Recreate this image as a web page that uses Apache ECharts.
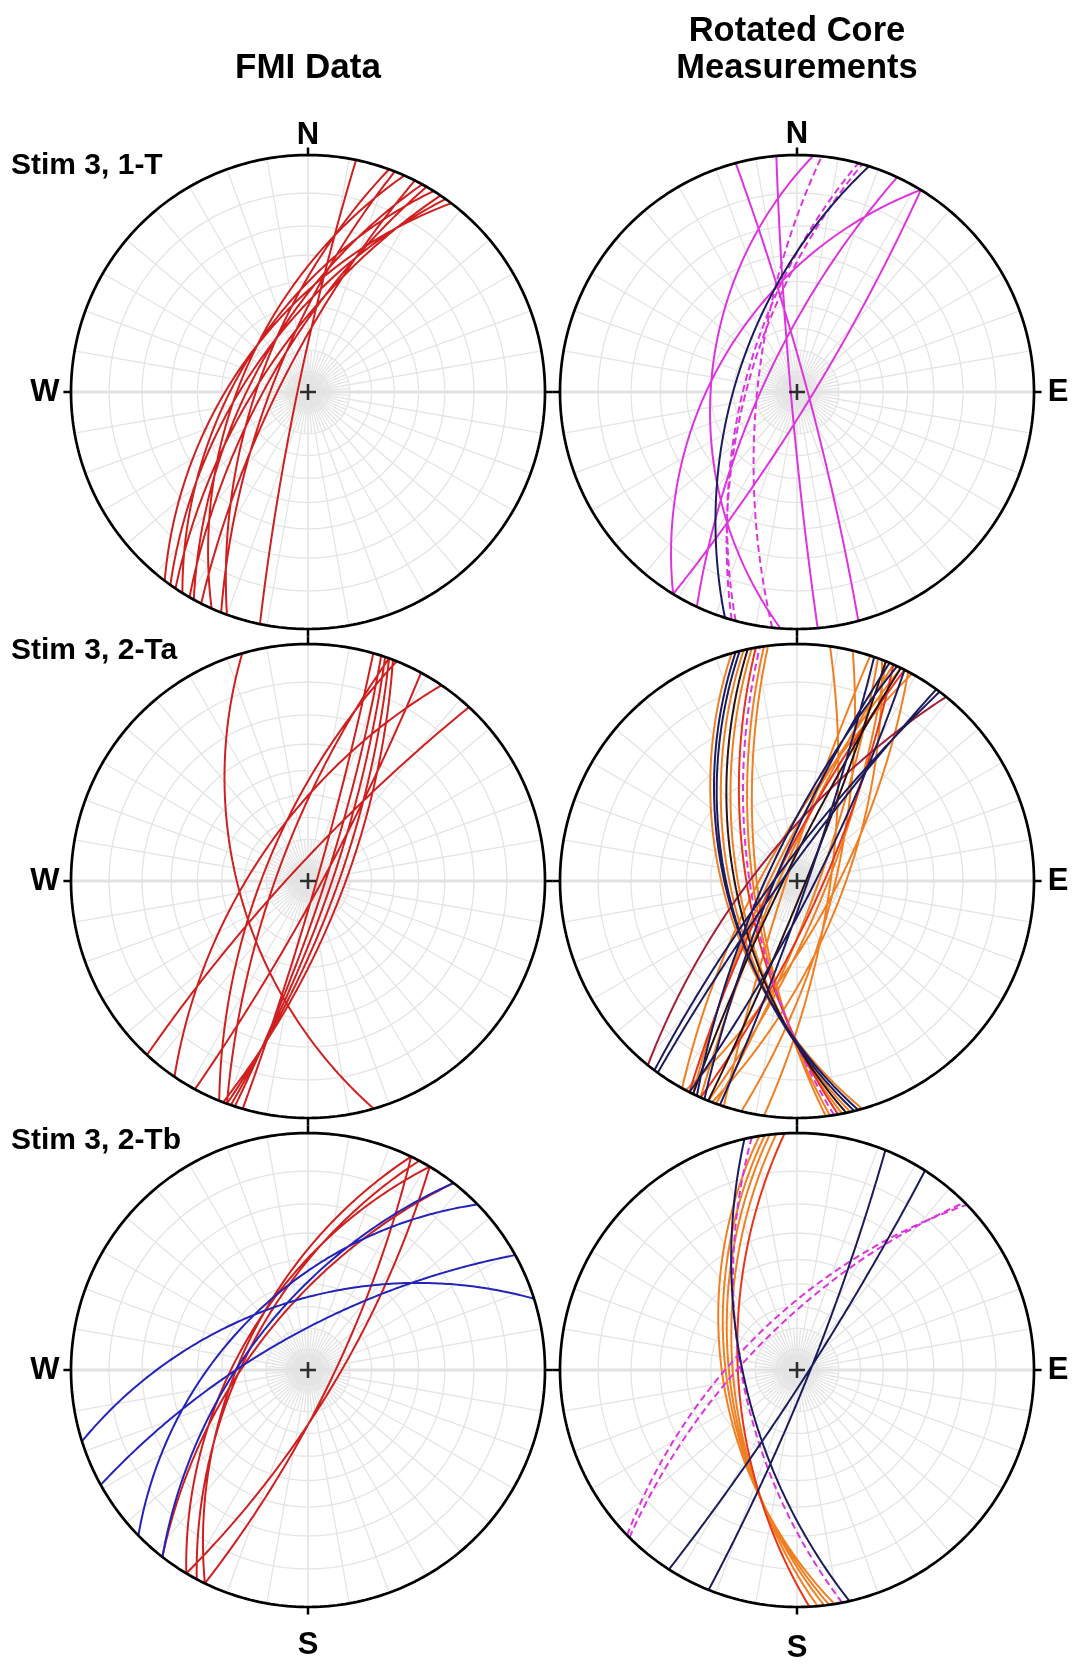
<!DOCTYPE html>
<html><head><meta charset="utf-8">
<script src="https://cdn.jsdelivr.net/npm/echarts/dist/echarts.min.js"></script>
<style>html,body{margin:0;padding:0;background:#fff}#c{width:1077px;height:1664px}</style>
</head><body><div id="c"></div>
<script>
// Planes as [dip direction (deg), dip (deg)], lower-hemisphere equal-angle projection
const fmi1T_red = [[281.7,85],[290,66.5],[291.5,73],[294,58.9],[296.8,76.7],[298.8,64],[300,71.2],[302,57.9],[304,68],[305.5,62.7],[307.2,57.6]];
const core1T_magenta = [[301.5,52.5],[121.5,83],[295,74],[274,50],[265,87],[75,85]];
const core1T_magentaDashed = [[285,65],[286,66.5],[276,71]];
const core1T_navy = [[287.7,61]];
const fmi2Ta_red = [[253.9,57.6],[312.8,82],[304.3,65],[118.5,84],[106,86],[108,82],[109,79],[110,76],[111,73],[290,75],[292,69]];
const core2Ta_orange = [[257,58.8],[259,62.4],[262,69],[263,70.8],[254,55.6],[110,80],[112,76],[294,82],[296,78],[118,72],[288,85],[299,74],[111,68],[98,74],[103.6,72]];
const core2Ta_navy = [[255,56.8],[256,57.4],[109,85],[293,80],[117,82],[295,76],[306,84],[307,81]];
const core2Ta_red = [[260,66.2],[114,78],[297,80]];
const core2Ta_darkred = [[309,72]];
const core2Ta_black = [[258,61],[112,86],[296,84]];
const core2Ta_magentaDashed = [[261,67.6]];
const fmi2Tb_red = [[295.8,59],[115.8,78],[300.9,58],[120.9,76],[298,61],[307.9,64]];
const fmi2Tb_blue = [[342.5,57],[331,72],[315.7,54],[307.9,62]];
const core2Tb_orange = [[260.9,55.1],[262.2,56.7],[263.4,58.1],[265,59.7]];
const core2Tb_red = [[267,62]];
const core2Tb_navy = [[257.2,64.6],[111.9,84],[122.7,85]];
const core2Tb_magentaDashed = [[259,63.8],[315.8,65],[315,69]];

const netPlunges = [10,20,30,40,50,60,70,80];
const columnTitles = [["FMI Data"],["Rotated Core","Measurements"]];
const rowLabels = ["Stim 3, 1-T","Stim 3, 2-Ta","Stim 3, 2-Tb"];

const C = {red:'#cf1f1f', blue:'#2424b8', mag:'#dd35dd', navy:'#1b1b5e', orange:'#f07f22', cred:'#ea3418', dred:'#a3203a', black:'#2a1010'};

const panels = [
  {row:0,col:0,groups:[{d:fmi1T_red,c:C.red}]},
  {row:0,col:1,groups:[{d:core1T_magenta,c:C.mag},{d:core1T_magentaDashed,c:C.mag,dash:true},{d:core1T_navy,c:C.navy}]},
  {row:1,col:0,groups:[{d:fmi2Ta_red,c:C.red}]},
  {row:1,col:1,groups:[{d:core2Ta_orange,c:C.orange},{d:core2Ta_red,c:C.cred},{d:core2Ta_darkred,c:C.dred},{d:core2Ta_magentaDashed,c:C.mag,dash:true},{d:core2Ta_black,c:C.black},{d:core2Ta_navy,c:C.navy}]},
  {row:2,col:0,groups:[{d:fmi2Tb_red,c:C.red},{d:fmi2Tb_blue,c:C.blue}]},
  {row:2,col:1,groups:[{d:core2Tb_orange,c:C.orange},{d:core2Tb_red,c:C.cred},{d:core2Tb_magentaDashed,c:C.mag,dash:true},{d:core2Tb_navy,c:C.navy}]}
];

const CX=[308,797], CY=[392,881,1370], R=237, EXT=1.1;
const D2R=Math.PI/180;

function greatCircle(dd,dip){
  const s=(dd-90)*D2R, d=dd*D2R, p=dip*D2R;
  const sv=[Math.sin(s),Math.cos(s),0];
  const dv=[Math.sin(d)*Math.cos(p),Math.cos(d)*Math.cos(p),-Math.sin(p)];
  const pts=[];
  for(let i=0;i<=180;i+=1){
    const t=i*D2R, a=Math.cos(t), b=Math.sin(t);
    const vx=a*sv[0]+b*dv[0], vy=a*sv[1]+b*dv[1], vz=a*sv[2]+b*dv[2];
    const den=1-vz;
    pts.push([vx/den,vy/den]);
  }
  return pts;
}
function groupData(arr){
  const out=[];
  arr.forEach(pl=>{greatCircle(pl[0],pl[1]).forEach(q=>out.push(q)); out.push(null);});
  return out;
}
function netData(){
  const out=[];
  netPlunges.forEach(pl=>{
    const r=Math.tan((90-pl)/2*D2R);
    for(let a=0;a<=360;a+=2) out.push([r*Math.sin(a*D2R),r*Math.cos(a*D2R)]);
    out.push(null);
  });
  const r70=Math.tan(10*D2R), r80=Math.tan(5*D2R);
  for(let a=0;a<360;a+=10){ if(a===90||a===270) continue; out.push([0,0]); out.push([Math.sin(a*D2R),Math.cos(a*D2R)]); out.push(null);}
  for(let a=5;a<360;a+=10){ out.push([0,0]); out.push([r70*Math.sin(a*D2R),r70*Math.cos(a*D2R)]); out.push(null);}
  for(let a=0;a<360;a+=2.5){ out.push([0,0]); out.push([0.5*r80*Math.sin(a*D2R),0.5*r80*Math.cos(a*D2R)]); out.push(null);}
  return out;
}
function primitive(){ const o=[]; for(let a=0;a<=360;a+=1) o.push([Math.sin(a*D2R),Math.cos(a*D2R)]); return o; }
function ticks(){ const o=[]; [0,90,180,270].forEach(a=>{o.push([Math.sin(a*D2R),Math.cos(a*D2R)]); o.push([1.032*Math.sin(a*D2R),1.032*Math.cos(a*D2R)]); o.push(null);}); return o; }

const grid=[], xAxis=[], yAxis=[], series=[];
const net=netData(), prim=primitive(), tk=ticks();
panels.forEach((P,i)=>{
  const cx=CX[P.col], cy=CY[P.row];
  grid.push({left:cx-R*EXT, top:cy-R*EXT, width:2*R*EXT, height:2*R*EXT});
  xAxis.push({type:'value',gridIndex:i,min:-EXT,max:EXT,show:false});
  yAxis.push({type:'value',gridIndex:i,min:-EXT,max:EXT,show:false});
  const base={type:'line',xAxisIndex:i,yAxisIndex:i,symbol:'none',silent:true,animation:false,clip:false,connectNulls:false};
  series.push(Object.assign({},base,{data:net,lineStyle:{color:'#e4e4e4',width:1.3},z:1}));
  series.push(Object.assign({},base,{data:[[-1,0],[1,0]],lineStyle:{color:'#e2e2e2',width:3},z:1}));
  series.push(Object.assign({},base,{data:[[0,-1],[0,1]],lineStyle:{color:'#e6e6e6',width:1.3},z:1}));
  P.groups.forEach(g=>{
    series.push(Object.assign({},base,{data:groupData(g.d),lineStyle:{color:g.c,width:2,type:g.dash?[7,4]:'solid'},z:3}));
  });
  series.push(Object.assign({},base,{data:prim,lineStyle:{color:'#000',width:2.7},z:5}));
  series.push(Object.assign({},base,{data:tk,lineStyle:{color:'#000',width:2.5},z:5}));
  series.push({type:'scatter',xAxisIndex:i,yAxisIndex:i,data:[[0,0]],symbol:'path://M-1,-0.16H1V0.16H-1Z M-0.16,-1H0.16V1H-0.16Z',symbolSize:16,itemStyle:{color:'#000'},silent:true,animation:false,z:6});
});

const FONT='Liberation Sans, Arial, Helvetica, sans-serif';
const graphic=[];
function txt(t,x,y,size,align){ graphic.push({type:'text',x:x,y:y,style:{text:t,font:'bold '+size+'px '+FONT,fill:'#000',textAlign:align||'center',textVerticalAlign:'middle'}}); }
txt(columnTitles[0][0],308,68,35);
txt(columnTitles[1][0],797,31,34.5);
txt(columnTitles[1][1],797,68,34.5);
txt(rowLabels[0],11,166,30,'left');
txt(rowLabels[1],11,651,30,'left');
txt(rowLabels[2],11,1141,30,'left');
txt('N',CX[0],135,31); txt('N',CX[1],134,31);
txt('S',CX[0],1645,31); txt('S',CX[1],1648,31);
CY.forEach(cy=>{ txt('W',45,cy,31); txt('E',1058,cy,31); });

const chart=echarts.init(document.getElementById('c'),null,{renderer:'canvas'});
chart.setOption({animation:false,backgroundColor:'#fff',grid,xAxis,yAxis,series,graphic});
</script></body></html>
